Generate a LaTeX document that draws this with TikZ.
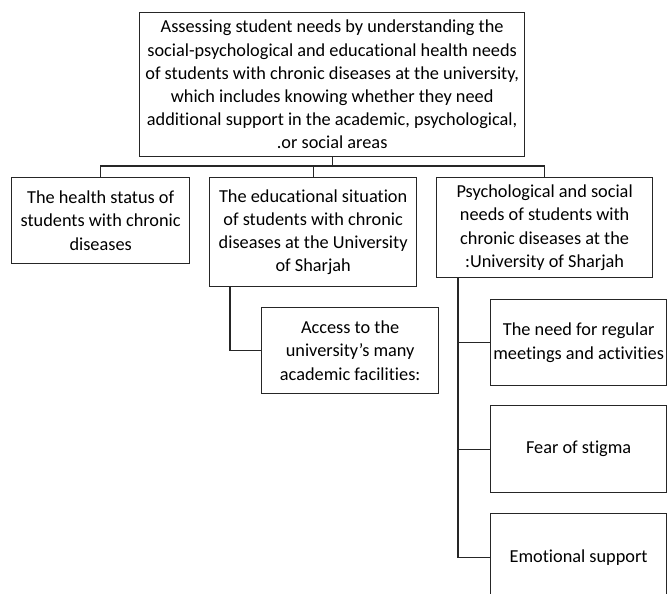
\documentclass[tikz,border=0pt]{standalone}
\usepackage{fontspec}
\setmainfont{Carlito}[Ligatures={NoCommon}]
\begin{document}
\begin{tikzpicture}[x=1pt,y=-1pt,
  box/.style={draw=black!85, line width=1.3pt, rectangle, anchor=north west,
    inner sep=0pt, align=center,
    font=\fontsize{18.3}{23.2}\selectfont},
  link/.style={draw=black!85, line width=1.3pt}]
\clip (0,0) rectangle (667,594);
\fill[white] (0,0) rectangle (667,594);

% root
\node[box, minimum width=385pt, minimum height=144pt] (top) at (139,12)
  {Assessing student needs by understanding the\\
   social-psychological and educational health needs\\
   of students with chronic diseases at the university,\\
   which includes knowing whether they need\\
   additional support in the academic, psychological,\\
   .or social areas};

% first level
\node[box, minimum width=178pt, minimum height=86pt] (h1) at (11,177)
  {The health status of\\ students with chronic\\ diseases};
\node[box, minimum width=207pt, minimum height=109pt] (h2) at (209,177)
  {The educational situation\\ of students with chronic\\ diseases at the University\\ of Sharjah};
\node[box, minimum width=216pt, minimum height=100pt] (h3) at (436,177)
  {Psychological and social\\ needs of students with\\ chronic diseases at the\\ :University of Sharjah};

% second level
\node[box, minimum width=177pt, minimum height=86pt] (a1) at (261,307)
  {Access to the\\ university’s many\\ academic facilities:};
\node[box, minimum width=176pt, minimum height=86pt] (c1) at (490,299)
  {The need for regular\\ meetings and activities};
\node[box, minimum width=176pt, minimum height=87pt] (c2) at (490,405)
  {Fear of stigma};
\node[box, minimum width=176pt, minimum height=87pt] (c3) at (490,513)
  {Emotional support};

% bus under the root
\coordinate (busy) at (0,166);
\draw[link] (top.south) -- (top.south |- busy);
\draw[link] (h1.north) -- (h1.north |- busy) -- (h3.north |- busy) -- (h3.north);
\draw[link] (h2.north) -- (h2.north |- busy);

% branch under the educational situation
\draw[link] ([xshift=21pt]h2.south west) |- (a1.west);

% branch under the psychological needs
\coordinate (spine) at ([xshift=22pt]h3.south west);
\draw[link] (spine) |- (c3.west);
\draw[link] (c1.west) -- (c1.west -| spine);
\draw[link] (c2.west) -- (c2.west -| spine);
\end{tikzpicture}
\end{document}
